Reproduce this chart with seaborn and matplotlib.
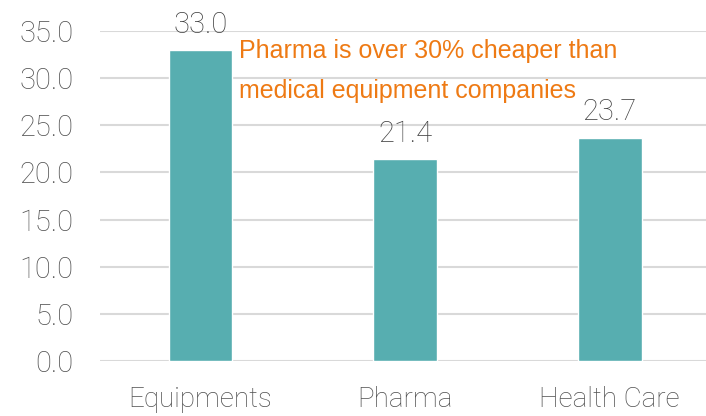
import pandas as pd
import matplotlib
matplotlib.use("Agg")
import matplotlib.pyplot as plt
import seaborn as sns

# values
categories = ["Equipments", "Pharma", "Health Care"]
pe_values = [33.0, 21.4, 23.7]
y_ticks = [0, 5, 10, 15, 20, 25, 30, 35]
note = "Pharma is over 30% cheaper than\nmedical equipment companies"

BAR_COLOR = "#57AEB0"
TEXT_GRAY = "#505050"
NOTE_ORANGE = "#EE7A14"

sns.set_theme(style="white")
plt.rcParams["font.family"] = ["Roboto", "DejaVu Sans"]

df = pd.DataFrame({"sector": categories, "value": pe_values})

fig = plt.figure(figsize=(7.06, 4.16), dpi=100)
ax = fig.add_axes([100 / 706, 1 - 361 / 416, 1 - 100 / 706, 330 / 416])

sns.barplot(data=df, x="sector", y="value", color=BAR_COLOR, width=0.31,
            saturation=1, ax=ax, zorder=3)

ax.set_ylim(0, 35)
ax.set_xlim(-0.49, 2.47)
ax.set_yticks(y_ticks)
ax.set_yticklabels([f"{v:.1f}" for v in y_ticks])
ax.yaxis.grid(True, color="#D9D9D9", linewidth=1.5, zorder=0)
ax.set_axisbelow(True)
for s in ax.spines.values():
    s.set_visible(False)

ax.tick_params(axis="y", length=0, pad=19, labelsize=21, labelcolor=TEXT_GRAY)
ax.tick_params(axis="x", length=0, pad=18, labelsize=20, labelcolor=TEXT_GRAY)
for lbl in ax.get_xticklabels() + ax.get_yticklabels():
    lbl.set_fontweight("light")
ax.set_xlabel("")
ax.set_ylabel("")

ax.bar_label(ax.containers[0], fmt="%.1f", padding=8, fontsize=21,
             color="#404040", fontweight="light")

ax.text(0.19, 34.2, note, color=NOTE_ORANGE, fontsize=18,
        family=["Liberation Sans", "DejaVu Sans"], ha="left", va="top",
        linespacing=1.85)

fig.savefig("out.png", dpi=100)
